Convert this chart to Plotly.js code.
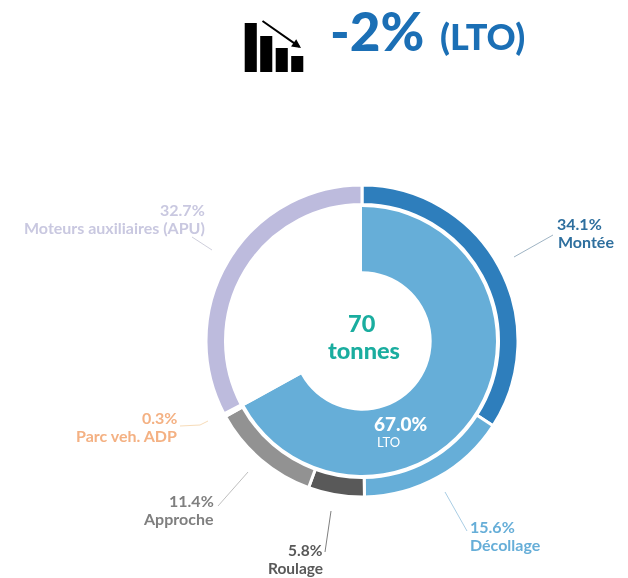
<!DOCTYPE html>
<html><head><meta charset="utf-8">
<script src="https://cdn.plot.ly/plotly-3.0.1.min.js"></script>
<style>html,body{margin:0;padding:0;background:#fff}#c{filter:blur(0.4px)}</style></head>
<body><div id="c" style="width:628px;height:578px"></div>
<script>
const outerLabels = ["Montée","Décollage","Roulage","Approche","Parc veh. ADP","Moteurs auxiliaires (APU)"];
const outerValues = [34.1,15.6,5.8,11.4,0.3,32.7];
const outerColors = ["#2e7ebc","#66aed8","#595959","#929292","#f4b183","#bdbbdd"];
const innerLabels = ["LTO","Reste"];
const innerValues = [67.0,33.0];
const innerColors = ["#66aed8","#ffffff"];
const iconX = [1,2,3,4];
const iconValues = [49,36,24,16];

const W=628,H=578;
const px=x=>x/W, py=y=>1-y/H;
const cx=362,cy=341,R=156,r=134;
const dom=(rad)=>({x:[px(cx-rad),px(cx+rad)],y:[py(cy+rad),py(cy-rad)]});

const traces=[
 {type:'pie',labels:outerLabels,values:outerValues,sort:false,direction:'clockwise',rotation:0,hole:0.875,
  domain:dom(R),textinfo:'none',hoverinfo:'label+percent',showlegend:false,
  marker:{colors:outerColors,line:{color:'#fff',width:3}}},
 {type:'pie',labels:innerLabels,values:innerValues,sort:false,direction:'clockwise',rotation:0,hole:0.52,
  domain:dom(r),textinfo:'none',hoverinfo:'label+percent',showlegend:false,
  marker:{colors:innerColors,line:{color:'#fff',width:0}}},
 {type:'bar',x:iconX,y:iconValues,xaxis:'x',yaxis:'y',marker:{color:'#000'},width:0.78,hoverinfo:'skip',showlegend:false}
];

const F='Lato, "Open Sans", sans-serif';
function lab(x,y,t,c,s,anchor,weight){return {xref:'paper',yref:'paper',x:px(x),y:py(y),text:t,showarrow:false,borderpad:0,
  font:{family:F,size:s,color:c,weight:weight||700},xanchor:anchor,yanchor:'middle',align:anchor==='center'?'center':anchor};}
function line(pts,c){ // leader lines
  return {type:'path',xref:'paper',yref:'paper',
    path:'M'+pts.map(p=>px(p[0])+','+py(p[1])).join(' L'),line:{color:c,width:1}};}

const layout={width:W,height:H,margin:{l:0,r:0,t:0,b:0},paper_bgcolor:'#fff',plot_bgcolor:'rgba(0,0,0,0)',showlegend:false,
 xaxis:{domain:[px(243),px(305)],range:[0.5,4.5],visible:false,fixedrange:true},
 yaxis:{domain:[py(72),py(23)],range:[0,49],visible:false,fixedrange:true},
 annotations:[
  lab(329,30,'-2%','#1b6fb5',53,'left',900),
  lab(439,36,'(LTO)','#1b6fb5',36,'left',900),
  {xref:'paper',yref:'paper',axref:'paper',ayref:'paper',x:px(301),y:py(48),ax:px(261),ay:py(20),text:'',showarrow:true,arrowhead:2,arrowsize:0.9,arrowwidth:2,arrowcolor:'#000'},
  lab(362,323,'70','#1aad9f',23.5,'center',900),
  lab(364,350,'tonnes','#1aad9f',23.5,'center',900),
  lab(401,423,'67.0%','#fff',19,'center',900),
  lab(388,442,'LTO','#fff',13,'center',400),
  lab(556,223,'34.1%','#2e6f9e',16,'left'),
  lab(557,241,'Montée','#2e6f9e',16,'left'),
  lab(469,526,'15.6%','#66aed8',16,'left'),
  lab(469,544,'Décollage','#66aed8',16,'left'),
  lab(324,550,'5.8%','#595959',15.5,'right'),
  lab(324,568,'Roulage','#595959',15.5,'right'),
  lab(215,500,'11.4%','#7f7f7f',16,'right'),
  lab(215,518,'Approche','#7f7f7f',16,'right'),
  lab(178,417,'0.3%','#f4b183',16,'right'),
  lab(178,435,'Parc veh. ADP','#f4b183',16,'right'),
  lab(206,209,'32.7%','#c9c8e0',16,'right'),
  lab(206,227,'Moteurs auxiliaires (APU)','#c9c8e0',16,'right')
 ],
 shapes:[
  line([[514,257],[553,235]],'#9fb4c4'),
  line([[445,492],[467,531]],'#a9cde4'),
  line([[331,511],[325,552]],'#7f7f7f'),
  line([[248,472],[218,506]],'#bfbfbf'),
  line([[180,426],[200,425],[208,421]],'#f7dcb9'),
  line([[192,237],[212,250]],'#cfcfdc')
 ]
};
Plotly.newPlot('c',traces,layout,{staticPlot:true,displayModeBar:false});
</script></body></html>
